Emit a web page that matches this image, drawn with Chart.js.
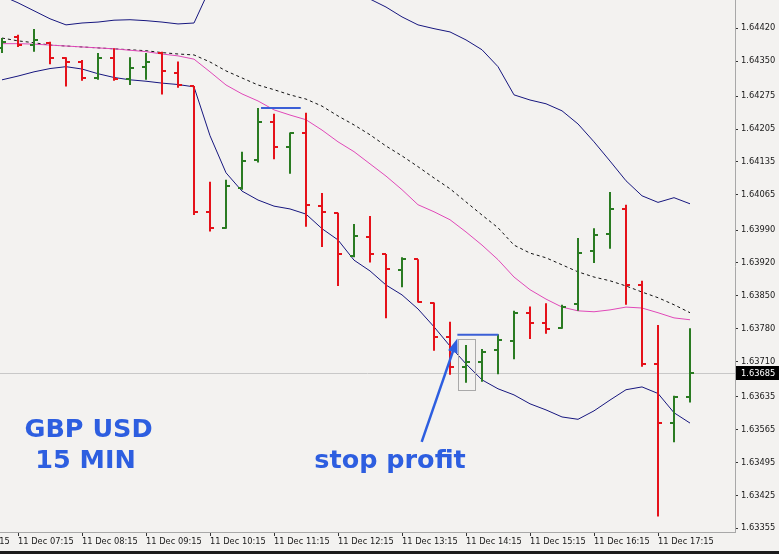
<!DOCTYPE html>
<html>
<head>
<meta charset="utf-8">
<title>GBP USD 15 MIN</title>
<script src="https://cdn.jsdelivr.net/npm/chart.js@4.4.1/dist/chart.umd.min.js"></script>
<style>
  html, body { margin: 0; padding: 0; background: #f3f2f0; }
  #wrap { width: 779px; height: 551px; border-bottom: 3px solid #1c1c1c; }
</style>
</head>
<body>
<div id="wrap"><canvas id="chart" width="779" height="551"></canvas></div>
<script>
// 15 minute bars, 11 Dec
const barTimes = ['07:00','07:15','07:30','07:45','08:00','08:15','08:30','08:45','09:00','09:15','09:30',
  '09:45','10:00','10:15','10:30','10:45','11:00','11:15','11:30','11:45','12:00','12:15','12:30','12:45',
  '13:00','13:15','13:30','13:45','14:00','14:15','14:30','14:45','15:00','15:15','15:30','15:45','16:00',
  '16:15','16:30','16:45','17:00','17:15','17:30','17:45'];

const open = [1.64378, 1.64401, 1.64384, 1.64389, 1.64356, 1.64347, 1.64313, 1.64356, 1.64311, 1.64338, 1.64367,
  1.64325, 1.64296, 1.64029, 1.63995, 1.64079, 1.64140, 1.64220, 1.64166, 1.64196, 1.64042, 1.64027, 1.63934,
  1.63976, 1.63939, 1.63904, 1.63928, 1.63834, 1.63762, 1.63699, 1.63708, 1.63735, 1.63754, 1.63814, 1.63792,
  1.63782, 1.63832, 1.63946, 1.63981, 1.64035, 1.63873, 1.63704, 1.63580, 1.63634];
const high = [1.64399, 1.64406, 1.64418, 1.64391, 1.64358, 1.64352, 1.64367, 1.64377, 1.64358, 1.64367, 1.64370,
  1.64349, 1.64297, 1.64093, 1.64097, 1.64157, 1.64250, 1.64238, 1.64198, 1.64240, 1.64069, 1.64027, 1.64003,
  1.64020, 1.63939, 1.63932, 1.63928, 1.63836, 1.63795, 1.63745, 1.63737, 1.63768, 1.63818, 1.63827, 1.63834,
  1.63831, 1.63973, 1.63994, 1.64071, 1.64044, 1.63882, 1.63788, 1.63637, 1.63781];
const low = [1.64367, 1.64380, 1.64370, 1.64343, 1.64296, 1.64308, 1.64310, 1.64308, 1.64299, 1.64310, 1.64279,
  1.64293, 1.64022, 1.63987, 1.63993, 1.64076, 1.64134, 1.64141, 1.64110, 1.63997, 1.63954, 1.63871, 1.63932,
  1.63921, 1.63802, 1.63868, 1.63836, 1.63733, 1.63682, 1.63665, 1.63667, 1.63683, 1.63715, 1.63758, 1.63769,
  1.63780, 1.63818, 1.63920, 1.63950, 1.63831, 1.63699, 1.63380, 1.63538, 1.63623];
const close = [1.64391, 1.64384, 1.64395, 1.64357, 1.64348, 1.64313, 1.64356, 1.64312, 1.64336, 1.64349, 1.64328,
  1.64298, 1.64029, 1.63995, 1.64083, 1.64137, 1.64220, 1.64166, 1.64196, 1.64044, 1.64029, 1.63939, 1.63978,
  1.63939, 1.63907, 1.63929, 1.63836, 1.63762, 1.63699, 1.63708, 1.63731, 1.63756, 1.63814, 1.63793, 1.63780,
  1.63827, 1.63942, 1.63980, 1.64035, 1.63873, 1.63704, 1.63580, 1.63634, 1.63685];

// bollinger bands (20) and the pink moving average
const bandUpper = [1.64489, 1.64474, 1.64457, 1.64440, 1.64427, 1.64431, 1.64433, 1.64437, 1.64438, 1.64436, 1.64433,
  1.64429, 1.64431, 1.64505, 1.64546, 1.64555, 1.64544, 1.64536, 1.64521, 1.64514, 1.64517, 1.64497, 1.64502,
  1.64482, 1.64465, 1.64444, 1.64427, 1.64419, 1.64412, 1.64395, 1.64374, 1.64338, 1.64278, 1.64267, 1.64259,
  1.64244, 1.64216, 1.64178, 1.64137, 1.64095, 1.64063, 1.64049, 1.64059, 1.64046];
const bandMiddle = [1.64399, 1.64393, 1.64389, 1.64384, 1.64382, 1.64380, 1.64378, 1.64376, 1.64374, 1.64372, 1.64368,
  1.64365, 1.64363, 1.64348, 1.64329, 1.64314, 1.64299, 1.64289, 1.64278, 1.64269, 1.64254, 1.64233, 1.64214,
  1.64193, 1.64169, 1.64148, 1.64125, 1.64101, 1.64078, 1.64050, 1.64022, 1.63995, 1.63958, 1.63941, 1.63931,
  1.63916, 1.63901, 1.63890, 1.63882, 1.63871, 1.63858, 1.63846, 1.63831, 1.63814];
const bandLower = [1.64310, 1.64318, 1.64327, 1.64334, 1.64338, 1.64333, 1.64323, 1.64315, 1.64310, 1.64307, 1.64303,
  1.64300, 1.64295, 1.64191, 1.64112, 1.64073, 1.64054, 1.64041, 1.64035, 1.64024, 1.63993, 1.63969, 1.63926,
  1.63903, 1.63873, 1.63852, 1.63822, 1.63784, 1.63743, 1.63705, 1.63671, 1.63652, 1.63639, 1.63620, 1.63607,
  1.63592, 1.63587, 1.63605, 1.63628, 1.63650, 1.63656, 1.63642, 1.63601, 1.63579];
const maPink = [1.64387, 1.64387, 1.64386, 1.64384, 1.64382, 1.64380, 1.64378, 1.64376, 1.64373, 1.64370, 1.64365,
  1.64361, 1.64354, 1.64327, 1.64299, 1.64280, 1.64265, 1.64246, 1.64235, 1.64225, 1.64203, 1.64178, 1.64157,
  1.64131, 1.64105, 1.64076, 1.64044, 1.64029, 1.64012, 1.63986, 1.63958, 1.63927, 1.63890, 1.63863, 1.63843,
  1.63826, 1.63818, 1.63816, 1.63820, 1.63826, 1.63824, 1.63814, 1.63803, 1.63799];

const lastPrice = 1.63685;

const xTickLabels = ['11 Dec 06:15', '11 Dec 07:15', '11 Dec 08:15', '11 Dec 09:15', '11 Dec 10:15', '11 Dec 11:15',
  '11 Dec 12:15', '11 Dec 13:15', '11 Dec 14:15', '11 Dec 15:15', '11 Dec 16:15', '11 Dec 17:15'];
const yTickLabels = ['1.63355', '1.63425', '1.63495', '1.63565', '1.63635', '1.63710', '1.63780', '1.63850',
  '1.63920', '1.63990', '1.64065', '1.64135', '1.64205', '1.64275', '1.64350', '1.64420'];

// hand drawn marks on the screenshot (x in bar slots, y in price)
const stopLines = [
  { from: 16.19, to: 18.67, price: 1.64250 },
  { from: 28.46, to: 31.02, price: 1.63767 }
];
const arrow = { x1: 26.23, y1: 1.63539, x2: 28.46, y2: 1.63759 };
const markBox = { x1: 28.48, x2: 29.52, top: 1.63758, bottom: 1.63650 };
const notes = [
  { text: 'GBP USD', x: 5.41, y: 1.63549 },
  { text: '15 MIN', x: 5.22, y: 1.63483 },
  { text: 'stop profit', x: 24.25, y: 1.63483 }
];

const RED = '#e5121a';
const GREEN = '#2a7b22';
const NOTE_BLUE = '#2d5ee0';

function toMinutes(t) {
  const p = t.split(':');
  return parseInt(p[0], 10) * 60 + parseInt(p[1], 10);
}
function slotOf(label) {
  return (toMinutes(label.slice(-5)) - toMinutes(barTimes[0])) / 15;
}
function barColor(i) {
  return close[i] >= open[i] ? GREEN : RED;
}
function series(values) {
  return values.map((v, i) => ({ x: i, y: v }));
}

const overlay = {
  id: 'overlay',
  beforeDatasetsDraw(chart) {
    const { ctx, chartArea: a, scales: { y } } = chart;
    const py = Math.round(y.getPixelForValue(lastPrice)) + 0.5;
    ctx.save();
    ctx.strokeStyle = '#c8c8c8';
    ctx.lineWidth = 1;
    ctx.beginPath();
    ctx.moveTo(a.left, py);
    ctx.lineTo(a.right, py);
    ctx.stroke();
    ctx.restore();
  },
  afterDatasetsDraw(chart) {
    const { ctx, scales: { x, y } } = chart;
    ctx.save();

    // open / close ticks
    chart.getDatasetMeta(0).data.forEach((bar, i) => {
      const cx = Math.round(bar.x);
      ctx.fillStyle = barColor(i);
      ctx.fillRect(cx - 4, Math.round(y.getPixelForValue(open[i])) - 1, 4, 2);
      ctx.fillRect(cx, Math.round(y.getPixelForValue(close[i])) - 1, 4, 2);
    });

    // stop levels
    ctx.strokeStyle = '#3b5fd6';
    ctx.lineWidth = 2;
    stopLines.forEach(s => {
      const py = y.getPixelForValue(s.price);
      ctx.beginPath();
      ctx.moveTo(x.getPixelForValue(s.from), py);
      ctx.lineTo(x.getPixelForValue(s.to), py);
      ctx.stroke();
    });

    // box round the bar
    ctx.strokeStyle = '#a9a9a9';
    ctx.lineWidth = 1;
    const bx = Math.round(x.getPixelForValue(markBox.x1)) + 0.5;
    const by = Math.round(y.getPixelForValue(markBox.top)) + 0.5;
    ctx.strokeRect(bx, by,
      Math.round(x.getPixelForValue(markBox.x2) - x.getPixelForValue(markBox.x1)),
      Math.round(y.getPixelForValue(markBox.bottom) - y.getPixelForValue(markBox.top)));

    // arrow
    const ax1 = x.getPixelForValue(arrow.x1), ay1 = y.getPixelForValue(arrow.y1);
    const ax2 = x.getPixelForValue(arrow.x2), ay2 = y.getPixelForValue(arrow.y2);
    const ang = Math.atan2(ay2 - ay1, ax2 - ax1);
    const headLen = 14, headW = 5;
    ctx.strokeStyle = NOTE_BLUE;
    ctx.fillStyle = NOTE_BLUE;
    ctx.lineWidth = 2.5;
    ctx.beginPath();
    ctx.moveTo(ax1, ay1);
    ctx.lineTo(ax2 - Math.cos(ang) * headLen * 0.8, ay2 - Math.sin(ang) * headLen * 0.8);
    ctx.stroke();
    ctx.beginPath();
    ctx.moveTo(ax2, ay2);
    ctx.lineTo(ax2 - Math.cos(ang) * headLen - Math.sin(ang) * headW, ay2 - Math.sin(ang) * headLen + Math.cos(ang) * headW);
    ctx.lineTo(ax2 - Math.cos(ang) * headLen + Math.sin(ang) * headW, ay2 - Math.sin(ang) * headLen - Math.cos(ang) * headW);
    ctx.closePath();
    ctx.fill();

    // labels
    ctx.font = 'bold 25.5px "DejaVu Sans", Verdana, sans-serif';
    ctx.textAlign = 'center';
    ctx.textBaseline = 'alphabetic';
    notes.forEach(n => {
      ctx.fillText(n.text, x.getPixelForValue(n.x), y.getPixelForValue(n.y));
    });
    ctx.restore();
  },
  afterDraw(chart) {
    // current price tag on the price axis
    const { ctx, chartArea: a, scales: { y } } = chart;
    const py = Math.round(y.getPixelForValue(lastPrice));
    ctx.save();
    ctx.fillStyle = '#000';
    ctx.fillRect(a.right + 1, py - 7, 43, 14);
    ctx.fillStyle = '#fff';
    ctx.font = '8.3px "DejaVu Sans", sans-serif';
    ctx.textAlign = 'left';
    ctx.textBaseline = 'middle';
    ctx.fillText(lastPrice.toFixed(5), a.right + 6, py + 0.5);
    ctx.restore();
  }
};

const axisFont = { family: '"DejaVu Sans", Tahoma, sans-serif', size: 8.3 };

new Chart(document.getElementById('chart'), {
  type: 'bar',
  data: {
    datasets: [
      {
        label: 'GBPUSD',
        data: low.map((l, i) => ({ x: i, y: [l, high[i]] })),
        backgroundColor: low.map((l, i) => barColor(i)),
        borderWidth: 0,
        borderSkipped: false,
        barThickness: 2,
        inflateAmount: 0
      },
      { type: 'line', label: 'MA', data: series(maPink), borderColor: '#e048b8', borderWidth: 1, pointRadius: 0 },
      { type: 'line', label: 'BB middle', data: series(bandMiddle), borderColor: '#111', borderWidth: 1, borderDash: [3, 3], pointRadius: 0 },
      { type: 'line', label: 'BB upper', data: series(bandUpper), borderColor: '#16167e', borderWidth: 1, pointRadius: 0 },
      { type: 'line', label: 'BB lower', data: series(bandLower), borderColor: '#16167e', borderWidth: 1, pointRadius: 0 }
    ]
  },
  options: {
    responsive: false,
    animation: false,
    layout: { padding: 0 },
    plugins: {
      legend: { display: false },
      tooltip: { enabled: false }
    },
    scales: {
      x: {
        type: 'linear',
        min: -0.125,
        max: 45.8125,
        offset: false,
        grid: { drawOnChartArea: false, offset: false, tickLength: 4, color: '#333' },
        border: { color: '#a8a8a8', dash: [8, 3] },
        afterBuildTicks: scale => {
          scale.ticks = xTickLabels.map(l => ({ value: slotOf(l) }));
        },
        afterFit: scale => {
          scale.paddingLeft = 0;
          scale.paddingRight = 0;
          scale.height = 19;
        },
        ticks: {
          autoSkip: false,
          maxRotation: 0,
          minRotation: 0,
          align: 'start',
          padding: 1,
          color: '#1a1a1a',
          font: axisFont,
          callback: (v, i) => xTickLabels[i]
        }
      },
      y: {
        position: 'right',
        min: 1.63347,
        max: 1.64480,
        beginAtZero: false,
        grid: { drawOnChartArea: false, tickLength: 3, color: '#333' },
        border: { color: '#a8a8a8' },
        afterBuildTicks: scale => {
          scale.ticks = yTickLabels.map(s => ({ value: parseFloat(s) }));
        },
        afterFit: scale => {
          scale.width = 44;
          scale.paddingTop = 0;
          scale.paddingBottom = 0;
        },
        ticks: {
          padding: 3,
          color: '#1a1a1a',
          font: axisFont,
          callback: (v, i) => yTickLabels[i]
        }
      }
    }
  },
  plugins: [overlay]
});
</script>
</body>
</html>
